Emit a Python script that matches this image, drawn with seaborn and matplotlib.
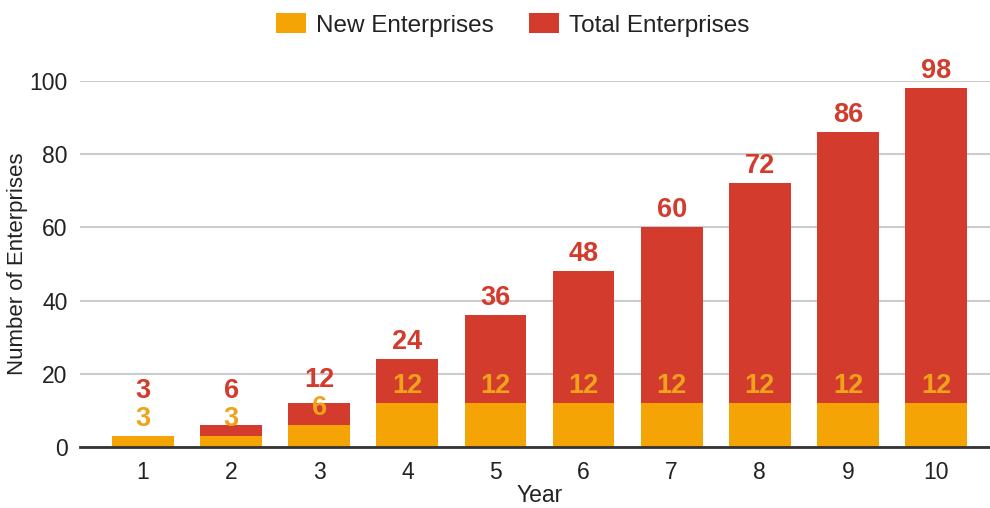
import matplotlib
matplotlib.use("Agg")
import matplotlib.pyplot as plt
import seaborn as sns
import pandas as pd
from matplotlib.patches import Patch
from matplotlib import font_manager as fm

years = ["1", "2", "3", "4", "5", "6", "7", "8", "9", "10"]
new_enterprises = [3, 3, 6, 12, 12, 12, 12, 12, 12, 12]
total_enterprises = [3, 6, 12, 24, 36, 48, 60, 72, 86, 98]
y_ticks = [0, 20, 40, 60, 80, 100]

RED = "#D33B2C"
ORANGE = "#F4A405"
LABEL_ORANGE = "#EFA31A"
TEXT = "#222222"

sns.set_theme(style="white")
plt.rcParams["font.family"] = ["Liberation Sans", "DejaVu Sans"]

# explicit bold (non-narrow) Liberation Sans for value labels
bold_file = None
for f in fm.fontManager.ttflist:
    if f.name == "Liberation Sans" and f.weight in (700, "bold") and f.style == "normal" \
            and "Narrow" not in f.fname:
        bold_file = f.fname
        break
if bold_file:
    bold_fp = fm.FontProperties(fname=bold_file, size=19.5)
else:
    bold_fp = fm.FontProperties(family="DejaVu Sans", weight="bold", size=18)

df = pd.DataFrame({"Year": years, "New": new_enterprises, "Total": total_enterprises})

W, H = 990, 508
fig = plt.figure(figsize=(W / 100, H / 100), dpi=100)
ax_left, ax_right = 80, 999
ax_bottom, ax_top = 447, 81
ax = fig.add_axes([ax_left / W, (H - ax_bottom) / H, (ax_right - ax_left) / W, (ax_bottom - ax_top) / H])

sns.barplot(data=df, x="Year", y="Total", color=RED, saturation=1, width=0.70, ax=ax, zorder=3)
sns.barplot(data=df, x="Year", y="New", color=ORANGE, saturation=1, width=0.70, ax=ax, zorder=4)
for p in ax.patches:
    p.set_edgecolor("none")

ax.set_xlim(-0.715, 9.715)
ax.set_ylim(0, 100)
ax.set_yticks(y_ticks)
ax.set_yticklabels([str(t) for t in y_ticks])
ax.yaxis.grid(True, color="#CCCCCC", linewidth=1.5, zorder=0)
ax.xaxis.grid(False)
ax.set_axisbelow(True)
for s in ["top", "right", "left"]:
    ax.spines[s].set_visible(False)
ax.spines["bottom"].set_color("#333333")
ax.spines["bottom"].set_linewidth(2)
ax.spines["bottom"].set_zorder(6)
ax.tick_params(axis="y", length=0, pad=9, labelsize=16.5, labelcolor=TEXT)
ax.tick_params(axis="x", length=0, pad=10, labelsize=16.5, labelcolor=TEXT)

ax.set_xlabel("Year", fontsize=16.5, color=TEXT, labelpad=0)
ax.set_ylabel("Number of Enterprises", fontsize=16, color=TEXT)
ax.yaxis.set_label_coords((28 - ax_left) / (ax_right - ax_left), 0.5)

# value labels
px_per_unit = (ax_bottom - ax_top) / 100.0
pt = 72 / 100.0  # points per pixel
gap_px = 17
min_sep_px = 28
for i in range(len(years)):
    n_off = gap_px
    ax.annotate(str(new_enterprises[i]), xy=(i, new_enterprises[i]), xytext=(0, n_off * pt),
                textcoords="offset points", ha="center", va="center",
                fontproperties=bold_fp, color=LABEL_ORANGE, zorder=7, annotation_clip=False)
    t_top_px = total_enterprises[i] * px_per_unit + gap_px
    n_lab_px = new_enterprises[i] * px_per_unit + n_off
    t_px = max(t_top_px, n_lab_px + min_sep_px)
    t_off = t_px - total_enterprises[i] * px_per_unit
    ax.annotate(str(total_enterprises[i]), xy=(i, total_enterprises[i]), xytext=(0, t_off * pt),
                textcoords="offset points", ha="center", va="center",
                fontproperties=bold_fp, color=RED, zorder=7, annotation_clip=False)

handles = [Patch(facecolor=ORANGE, edgecolor="none", label="New Enterprises"),
           Patch(facecolor=RED, edgecolor="none", label="Total Enterprises")]
fig.legend(handles=handles, loc="center", bbox_to_anchor=(513 / W, 1 - 25 / H), ncol=2,
           frameon=False, fontsize=17.5, handlelength=1.22, handleheight=0.86,
           handletextpad=0.42, columnspacing=1.45, labelcolor=TEXT)

fig.savefig("out.png", dpi=100)
